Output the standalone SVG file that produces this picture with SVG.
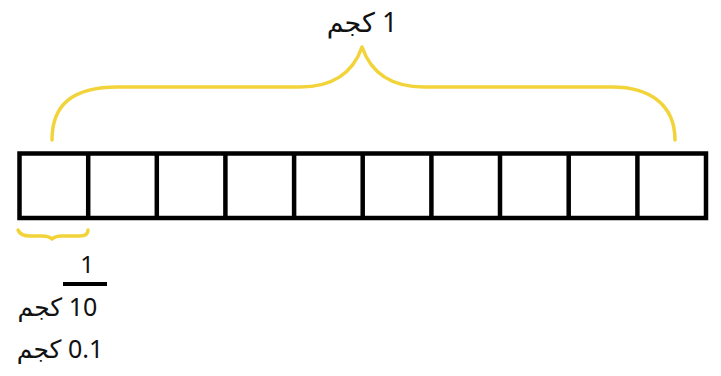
<svg xmlns="http://www.w3.org/2000/svg" width="721" height="376" viewBox="0 0 721 376">
<style>
.txt{font-family:"Noto Sans","DejaVu Sans",sans-serif;fill:#111;}
.brace{fill:none;stroke:#F2D43A;stroke-width:3.5;stroke-linecap:round;stroke-linejoin:round;}
.box{fill:#fff;stroke:#000;stroke-width:4.5;}
.div{stroke:#000;stroke-width:4.5;}
</style>
<rect width="721" height="376" fill="#fff"/>
<g id="bar">
<rect class="box" x="19.5" y="153.5" width="686.5" height="64.5"/>
<line class="div" x1="88.2" y1="153.5" x2="88.2" y2="218"/>
<line class="div" x1="156.8" y1="153.5" x2="156.8" y2="218"/>
<line class="div" x1="225.4" y1="153.5" x2="225.4" y2="218"/>
<line class="div" x1="294.1" y1="153.5" x2="294.1" y2="218"/>
<line class="div" x1="362.7" y1="153.5" x2="362.7" y2="218"/>
<line class="div" x1="431.4" y1="153.5" x2="431.4" y2="218"/>
<line class="div" x1="500" y1="153.5" x2="500" y2="218"/>
<line class="div" x1="568.7" y1="153.5" x2="568.7" y2="218"/>
<line class="div" x1="637.4" y1="153.5" x2="637.4" y2="218"/>
</g>
<g id="connectors">
<path class="brace" d="M52,140 C52,105 72,87 118,87 L300,87 C336,87 354,70 362,47 C370,70 388,87 424,87 L612,87 C650,87 675,105 675,140"/>
<path class="brace" d="M18,230 C20,235 24,236 30,236 L42,236 C47,236 50,237 52,239 C54,237 57,236 62,236 L80,236 C85,236 88,234 88,230"/>
</g>
<g id="label-total">
<text class="txt" x="362" y="32" font-size="27" text-anchor="middle" direction="rtl">1 كجم</text>
</g>
<g id="label-part">
<text class="txt" x="87" y="273" font-size="24" text-anchor="middle">1</text>
<line x1="63" y1="284" x2="107" y2="284" stroke="#000" stroke-width="4"/>
<text class="txt" x="57.5" y="316" font-size="25" text-anchor="middle" direction="rtl">10 كجم</text>
<text class="txt" x="60" y="358" font-size="25" text-anchor="middle" direction="rtl">0.1 كجم</text>
</g>
</svg>
